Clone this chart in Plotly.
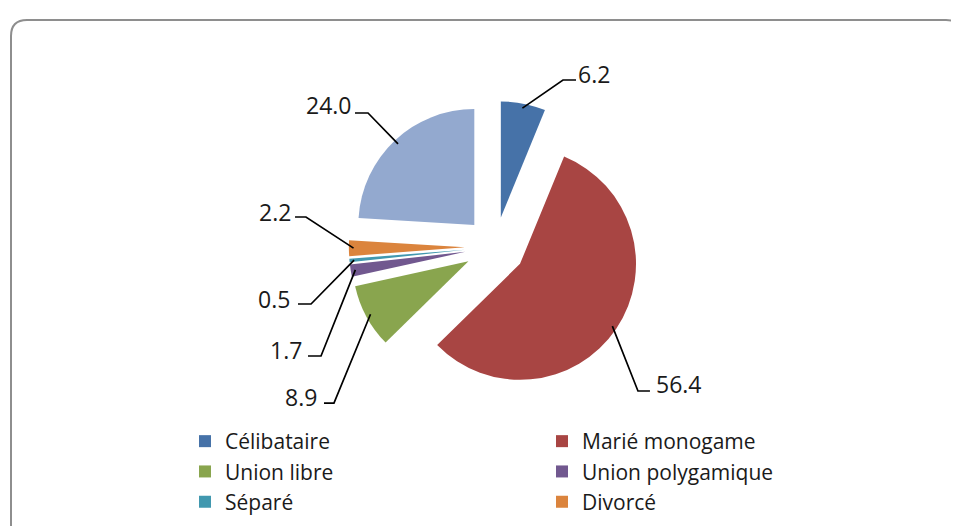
import math
import plotly.graph_objects as go

# --- data ---
labels = ["Célibataire", "Marié monogame", "Union libre", "Union polygamique",
          "Séparé", "Divorcé", "Veuf(ve)"]
values = [6.2, 56.4, 8.9, 1.7, 0.5, 2.2, 24.0]
colors = ["#4672A8", "#A84543", "#89A54E", "#71588F", "#4198AF", "#DB843D", "#93A9CF"]
n_legend = 6  # last category has no legend entry in the original

# --- layout in pixels ---
W, H = 959, 526
CX, CY = 487, 239      # pie centre
R = 116                # pie radius
PULL = 0.26            # exploded slices
half = R * (1 + PULL)

# label text anchor / leader line elbow (px), one per slice
txt_x = [568, 646, 311, 296, 284, 285, 346]
txt_y = [66, 376, 389, 342, 291, 204, 97]
line_y = [72, 383, 395, 348, 296, 209, 105]
elbow_x = [555, 630, 326, 313, 303, 298, 360]
end_x = [568, 642, 316, 300, 290, 287, 347]
side = ["left", "left", "right", "right", "right", "right", "right"]


def px(x):
    return x / W


def py(y):
    return 1 - y / H


fig = go.Figure()

fig.add_trace(go.Pie(
    labels=labels, values=values, sort=False, direction="clockwise", rotation=0,
    marker=dict(colors=colors, line=dict(width=0)),
    pull=PULL, textinfo="none", hoverinfo="label+value", showlegend=False,
    domain=dict(x=[px(CX - half), px(CX + half)], y=[py(CY + half), py(CY - half)]),
))

# legend entries (dummy traces so the 7th slice stays out of the legend)
for lab, col in zip(labels[:n_legend], colors[:n_legend]):
    fig.add_trace(go.Scatter(x=[None], y=[None], mode="markers", name=lab,
                             marker=dict(symbol="square", size=12, color=col),
                             hoverinfo="skip"))

# data labels with Excel-style leader lines
total = sum(values)
cum = 0
shapes = []
annotations = []
for i, v in enumerate(values):
    mid = 2 * math.pi * (cum + v / 2) / total
    cum += v
    d = PULL * R + 0.96 * R
    ax = CX + d * math.sin(mid)
    ay = CY - d * math.cos(mid)
    path = "M {:.4f},{:.4f} L {:.4f},{:.4f} L {:.4f},{:.4f}".format(
        px(ax), py(ay), px(elbow_x[i]), py(line_y[i]), px(end_x[i]), py(line_y[i]))
    shapes.append(dict(type="path", xref="paper", yref="paper", path=path,
                       line=dict(color="#000000", width=1.7)))
    annotations.append(dict(text="{:.1f}".format(v), x=px(txt_x[i]), y=py(txt_y[i]),
                            xref="paper", yref="paper", xanchor=side[i], yanchor="middle",
                            showarrow=False, font=dict(size=23, color="#1a1a1a")))

# rounded chart frame
fx0, fx1, fy0, r = 3, 954, 12, 16
frame = ("M {a},{b} L {a},{c} Q {a},{d} {e},{d} L {f},{d} Q {g},{d} {g},{c} L {g},{b}").format(
    a=px(fx0), b=py(H + 10), c=py(fy0 + r), d=py(fy0), e=px(fx0 + r), f=px(fx1 - r), g=px(fx1))
shapes.append(dict(type="path", xref="paper", yref="paper", path=frame,
                   line=dict(color="#8E8E8E", width=2), layer="below"))

fig.update_layout(
    width=W, height=H,
    margin=dict(l=0, r=0, t=0, b=0),
    paper_bgcolor="white", plot_bgcolor="white",
    font=dict(family="Open Sans, Lato, sans-serif", color="#1a1a1a"),
    xaxis=dict(visible=False), yaxis=dict(visible=False),
    shapes=shapes, annotations=annotations,
    showlegend=True,
    legend=dict(orientation="h", x=px(177), xanchor="left", y=py(413), yanchor="top",
                entrywidth=312, entrywidthmode="pixels", font=dict(size=21),
                bgcolor="rgba(0,0,0,0)", traceorder="normal"),
)

fig.write_html("out.html")
